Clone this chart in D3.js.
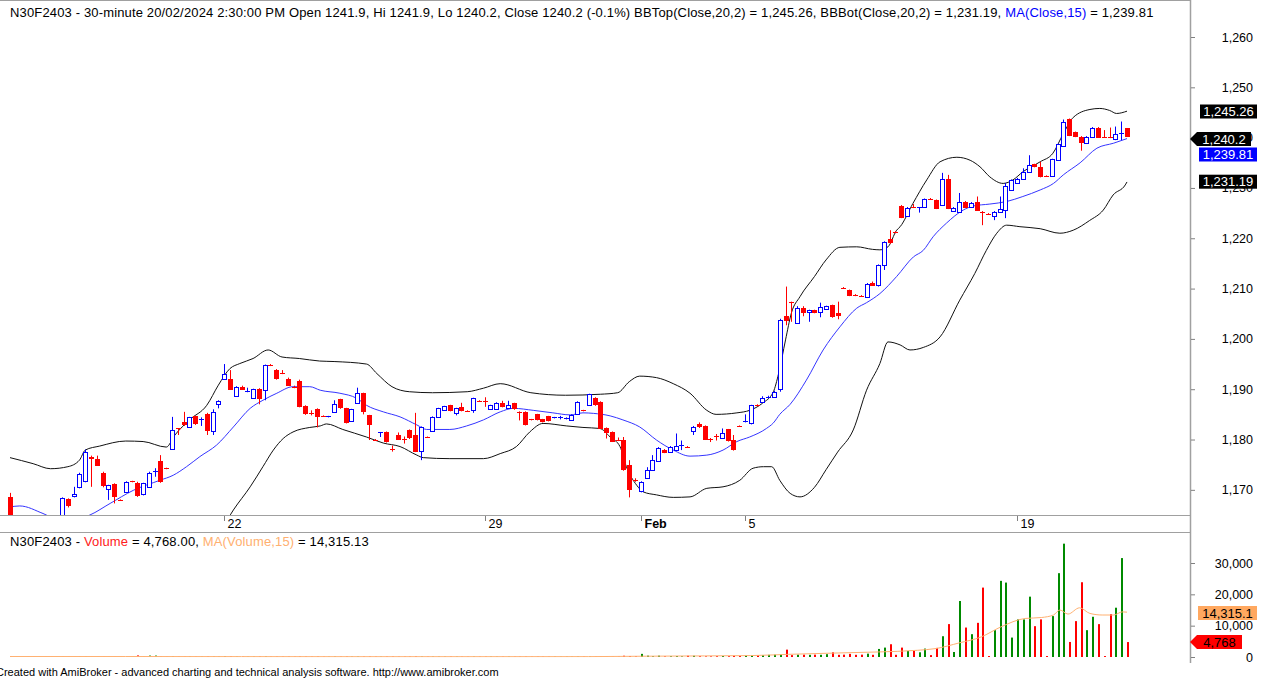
<!DOCTYPE html>
<html>
<head>
<meta charset="utf-8">
<script src="https://cdn.jsdelivr.net/npm/d3@7"></script>
<style>
  body { margin: 0; background: #fff; }
  text { font-family: "Liberation Sans", Arial, sans-serif; }
</style>
</head>
<body>
<div id="chart"></div>
<script>
// 30-minute bars, N30F2403, index 0 .. 193
const opens = [
  1168.5, 1164.0, 1162.2, 1163.0, 1162.4, 1160.9, 1162.3, 1163.6, 1162.1, 1163.8,
  1168.1, 1168.8, 1170.6, 1171.8, 1176.6, 1176.2, 1173.3, 1170.1, 1171.1, 1168.0,
  1169.6, 1171.7, 1171.4, 1169.1, 1170.6, 1173.5, 1175.8, 1174.3, 1178.2, 1182.2,
  1183.4, 1182.4, 1184.6, 1183.9, 1185.0, 1181.7, 1187.2, 1192.1, 1192.1, 1188.8,
  1190.5, 1189.5, 1188.2, 1190.0, 1189.8, 1194.9, 1193.8, 1193.2, 1192.1, 1190.5,
  1191.7, 1186.6, 1185.3, 1186.0, 1184.7, 1184.5, 1185.5, 1188.0, 1186.2, 1183.7,
  1187.2, 1189.2, 1184.8, 1180.0, 1181.4, 1181.5, 1178.2, 1180.9, 1180.2, 1181.8,
  1180.9, 1177.6, 1180.5, 1181.7, 1184.4, 1185.8, 1186.8, 1185.3, 1186.5, 1185.7,
  1185.8, 1187.7, 1187.6, 1186.0, 1186.2, 1187.3, 1186.2, 1187.2, 1185.5, 1185.5,
  1184.0, 1185.0, 1184.0, 1184.6, 1184.3, 1184.3, 1184.1, 1183.9, 1185.1, 1185.8,
  1186.8, 1188.2, 1187.5, 1182.2, 1181.5, 1180.0, 1179.9, 1174.9, 1172.0, 1169.9,
  1172.3, 1174.1, 1175.9, 1178.0, 1177.6, 1178.0, 1178.9, 1178.6, 1181.7, 1183.0,
  1182.7, 1180.2, 1180.7, 1180.4, 1182.0, 1179.9, 1182.7, 1183.5, 1183.3, 1186.9,
  1187.5, 1188.4, 1188.6, 1189.9, 1204.5, 1207.4, 1203.2, 1206.1, 1205.4, 1205.7,
  1205.4, 1205.9, 1206.7, 1205.1, 1210.2, 1209.7, 1208.8, 1208.6, 1208.4, 1211.2,
  1210.7, 1214.7, 1219.8, 1221.3, 1226.4, 1224.6, 1226.3, 1226.0, 1226.2, 1227.9,
  1227.6, 1226.6, 1231.8, 1225.6, 1225.3, 1227.3, 1226.3, 1227.3, 1225.3, 1224.9,
  1224.6, 1225.3, 1225.6, 1229.7, 1231.0, 1231.9, 1233.2, 1234.7, 1234.2, 1232.4,
  1232.4, 1235.5, 1238.4, 1243.7, 1241.1, 1240.2, 1239.0, 1240.2, 1242.0, 1240.2,
  1240.1, 1239.9, 1240.7, 1241.9
];
const highs = [
  1169.4, 1164.6, 1163.4, 1164.2, 1163.1, 1162.8, 1164.3, 1164.0, 1164.2, 1168.5,
  1168.3, 1170.6, 1173.4, 1178.0, 1176.8, 1176.8, 1173.6, 1171.0, 1171.3, 1168.1,
  1171.7, 1171.8, 1171.6, 1171.4, 1173.6, 1174.3, 1176.9, 1174.4, 1184.5, 1182.2,
  1185.5, 1184.5, 1184.7, 1184.4, 1185.3, 1186.0, 1187.8, 1195.0, 1193.8, 1190.6,
  1190.7, 1190.3, 1190.1, 1190.2, 1194.9, 1195.0, 1194.0, 1193.8, 1192.3, 1190.7,
  1191.9, 1186.8, 1185.8, 1186.2, 1184.8, 1184.7, 1187.8, 1188.1, 1186.3, 1186.1,
  1190.3, 1189.3, 1184.9, 1180.1, 1181.5, 1181.6, 1178.8, 1181.4, 1180.6, 1182.0,
  1185.3, 1182.6, 1180.6, 1184.6, 1186.3, 1186.7, 1186.9, 1186.3, 1187.3, 1185.8,
  1188.3, 1187.8, 1188.4, 1186.9, 1187.4, 1187.7, 1187.7, 1187.3, 1185.6, 1185.6,
  1184.1, 1185.1, 1184.1, 1184.7, 1184.5, 1184.7, 1184.4, 1185.0, 1187.6, 1185.9,
  1189.1, 1188.4, 1187.6, 1182.4, 1181.6, 1180.4, 1180.5, 1175.9, 1172.3, 1171.7,
  1174.5, 1176.9, 1178.5, 1178.1, 1178.7, 1181.2, 1179.8, 1178.7, 1182.7, 1183.4,
  1182.8, 1180.3, 1181.1, 1182.2, 1182.1, 1180.9, 1182.8, 1185.0, 1186.9, 1187.0,
  1188.6, 1188.7, 1189.7, 1204.0, 1210.4, 1207.4, 1206.5, 1206.5, 1205.8, 1205.8,
  1207.2, 1206.6, 1206.8, 1207.4, 1210.3, 1209.8, 1208.9, 1208.7, 1211.1, 1211.4,
  1214.8, 1219.4, 1221.6, 1221.4, 1226.6, 1226.2, 1226.8, 1226.2, 1227.9, 1228.0,
  1227.7, 1233.0, 1232.6, 1226.2, 1229.0, 1227.4, 1227.2, 1228.3, 1225.4, 1225.0,
  1225.4, 1228.3, 1231.0, 1231.7, 1232.0, 1233.9, 1236.5, 1234.8, 1235.2, 1232.5,
  1235.8, 1238.8, 1243.6, 1243.8, 1241.2, 1240.3, 1240.3, 1242.1, 1242.1, 1241.5,
  1242.0, 1242.2, 1243.2, 1241.9
];
const lows = [
  1163.0, 1161.5, 1160.8, 1161.9, 1160.2, 1160.5, 1161.8, 1161.7, 1161.9, 1163.2,
  1166.5, 1168.5, 1170.3, 1171.5, 1170.6, 1174.8, 1170.5, 1168.0, 1167.3, 1167.8,
  1169.5, 1171.5, 1168.6, 1168.9, 1170.4, 1172.6, 1171.4, 1174.1, 1178.0, 1180.9,
  1182.7, 1182.3, 1182.9, 1182.7, 1180.9, 1180.9, 1186.2, 1192.0, 1189.9, 1188.7,
  1189.9, 1189.4, 1188.1, 1187.0, 1187.8, 1194.6, 1191.9, 1193.0, 1190.7, 1190.2,
  1186.4, 1184.9, 1184.8, 1182.4, 1184.5, 1184.4, 1185.4, 1186.1, 1183.2, 1183.6,
  1187.1, 1185.0, 1179.9, 1179.8, 1180.5, 1179.4, 1177.6, 1179.9, 1179.2, 1180.1,
  1177.5, 1175.9, 1180.3, 1181.6, 1184.3, 1185.7, 1185.6, 1184.8, 1185.6, 1185.5,
  1185.3, 1187.5, 1186.5, 1185.9, 1186.1, 1186.4, 1186.1, 1185.9, 1183.8, 1182.8,
  1183.8, 1183.8, 1183.4, 1183.6, 1184.2, 1184.0, 1184.0, 1183.8, 1185.0, 1185.6,
  1186.7, 1186.7, 1182.1, 1180.2, 1179.5, 1179.7, 1173.8, 1168.5, 1171.6, 1169.5,
  1172.2, 1174.0, 1175.8, 1177.3, 1177.5, 1177.9, 1177.9, 1178.4, 1180.9, 1182.3,
  1179.9, 1179.5, 1179.8, 1180.3, 1179.6, 1177.8, 1182.5, 1183.4, 1183.0, 1186.6,
  1187.4, 1188.2, 1188.5, 1189.5, 1202.7, 1203.4, 1203.1, 1204.5, 1203.4, 1205.1,
  1204.3, 1205.8, 1204.2, 1203.9, 1210.0, 1208.5, 1208.5, 1208.4, 1208.3, 1210.6,
  1210.4, 1213.7, 1218.9, 1221.0, 1224.0, 1224.5, 1226.0, 1225.1, 1226.1, 1227.7,
  1225.8, 1226.5, 1225.8, 1225.5, 1225.2, 1226.0, 1226.2, 1225.5, 1222.6, 1224.7,
  1223.6, 1225.2, 1224.0, 1229.6, 1230.9, 1231.8, 1233.1, 1234.1, 1232.1, 1232.2,
  1232.3, 1235.4, 1238.3, 1240.3, 1240.1, 1237.4, 1238.9, 1240.1, 1240.0, 1240.0,
  1239.9, 1239.5, 1239.5, 1240.2
];
const closes = [
  1164.0, 1162.2, 1163.0, 1162.4, 1160.9, 1162.3, 1163.6, 1162.1, 1163.8, 1168.3,
  1166.8, 1169.1, 1173.1, 1177.6, 1176.2, 1174.9, 1170.7, 1170.9, 1168.5, 1167.9,
  1171.6, 1171.6, 1168.8, 1171.3, 1173.4, 1173.7, 1171.6, 1174.2, 1181.9, 1182.0,
  1182.8, 1184.4, 1183.0, 1184.1, 1181.7, 1185.5, 1187.7, 1193.1, 1190.0, 1190.5,
  1190.0, 1189.7, 1190.0, 1188.0, 1194.8, 1194.7, 1192.1, 1193.1, 1190.8, 1190.4,
  1186.6, 1185.0, 1185.2, 1184.4, 1184.6, 1184.6, 1187.0, 1186.2, 1183.3, 1186.0,
  1189.2, 1185.5, 1182.9, 1179.9, 1181.5, 1179.5, 1178.1, 1180.0, 1180.1, 1180.2,
  1177.6, 1182.4, 1180.4, 1184.5, 1186.2, 1186.6, 1185.7, 1186.2, 1185.7, 1185.6,
  1188.2, 1187.6, 1187.5, 1186.8, 1187.3, 1186.5, 1186.8, 1186.0, 1185.3, 1182.9,
  1183.9, 1183.9, 1183.5, 1183.7, 1184.4, 1184.4, 1184.3, 1184.9, 1187.5, 1185.7,
  1189.0, 1186.8, 1182.2, 1181.2, 1179.6, 1179.8, 1173.9, 1169.9, 1171.9, 1171.6,
  1173.9, 1176.0, 1178.4, 1177.4, 1178.6, 1178.7, 1179.0, 1178.5, 1182.4, 1182.4,
  1180.0, 1180.1, 1180.6, 1181.3, 1179.7, 1177.9, 1182.6, 1183.6, 1186.8, 1186.7,
  1188.3, 1188.5, 1189.5, 1203.7, 1203.6, 1207.2, 1206.2, 1205.2, 1205.7, 1205.2,
  1206.4, 1206.5, 1204.3, 1204.5, 1210.1, 1208.6, 1208.6, 1208.5, 1211.0, 1210.7,
  1214.7, 1219.3, 1219.0, 1221.1, 1224.1, 1226.1, 1226.1, 1226.2, 1227.8, 1227.8,
  1225.9, 1231.7, 1225.9, 1226.1, 1227.3, 1226.1, 1227.1, 1225.6, 1225.2, 1224.8,
  1225.3, 1225.9, 1230.4, 1231.6, 1231.7, 1233.2, 1234.6, 1234.2, 1232.2, 1232.3,
  1235.7, 1238.7, 1243.1, 1240.4, 1240.2, 1239.0, 1240.2, 1242.0, 1240.1, 1240.1,
  1240.0, 1240.8, 1240.9, 1240.2
];
const volumes = [
  150, 100, 120, 80, 100, 90, 110, 100, 80, 150,
  100, 120, 150, 200, 120, 100, 150, 100, 120, 80,
  120, 80, 500, 100, 450, 450, 150, 80, 200, 100,
  100, 120, 90, 100, 150, 120, 100, 200, 150, 100,
  90, 80, 100, 120, 150, 80, 100, 90, 100, 80,
  120, 100, 90, 120, 80, 70, 100, 90, 120, 100,
  110, 100, 120, 90, 80, 100, 120, 80, 90, 100,
  150, 120, 80, 100, 90, 80, 100, 90, 80, 70,
  100, 80, 90, 100, 80, 90, 100, 80, 90, 100,
  80, 90, 100, 80, 90, 80, 100, 90, 120, 100,
  120, 100, 150, 120, 100, 120, 400, 300, 200, 1000,
  430, 250, 430, 200, 250, 300, 200, 400, 400, 250,
  200, 200, 250, 300, 250, 400, 300, 500, 600, 600,
  600, 700, 750, 800, 2350, 600, 750, 750, 700, 750,
  700, 900, 1500, 700, 750, 1000, 700, 750, 1070, 700,
  2570, 3000, 4070, 700, 3000, 1930, 1930, 1500, 2680, 600,
  2900, 6630, 10500, 1600, 17870, 9400, 7280, 10900, 22150, 300,
  8560, 24300, 23750, 6200, 12000, 12000, 19260, 9840, 12000, 300,
  13050, 26750, 36170, 4800, 11450, 23860, 8560, 12840, 10490, 300,
  13700, 15730, 31570, 4768
];

// indicator lines: [bar index, value]
const bbTop = [
  [0,1176.4],[4,1175.2],[7,1174.2],[10,1174.6],[12,1175.9],[13,1177.9],[15.5,1178.7],[20,1179.7],
  [23,1179.6],[27,1178.5],[28.5,1180.9],[31,1183.9],[34,1186.8],[36,1190.8],[38,1194.1],[39.7,1195.1],
  [42,1196.1],[44.6,1197.8],[47,1196.4],[50,1196.1],[53.5,1195.6],[56,1195.5],[61.6,1195],[63.4,1193.1],
  [66,1190.5],[69,1189.5],[73,1189.3],[79,1189.5],[81.8,1190.2],[84.7,1191.1],[90,1189.3],[96,1188.8],
  [102,1189.0],[105,1189.3],[107,1191.5],[108.8,1192.6],[111.7,1192.3],[114.6,1191.1],[117.5,1189.2],
  [120.4,1185.8],[122,1185.0],[125.6,1185.3],[127.8,1185.8],[130,1187.2],[131.9,1189.5],[132.8,1193.1],
  [134,1199.8],[135,1205.1],[136.5,1208.4],[139,1212.4],[141,1215.7],[143.4,1218.2],[146.3,1218.3],
  [149,1217.8],[150.3,1217.7],[151.7,1218.3],[153.2,1221.6],[153.8,1222.3],[156,1226.9],[158.4,1231.6],
  [160.7,1235.2],[163.6,1236.1],[165.9,1235.5],[167.6,1234.2],[169.3,1232.2],[171.6,1230.9],[173.3,1231.6],
  [175,1233.2],[178,1235.2],[180.2,1236.9],[182,1240.8],[183.7,1244.0],[186.6,1245.6],[188.3,1245.8],
  [190,1245.4],[191.2,1244.8],[193,1245.26]
];
const bbBot = [
  [0,1156],[10,1156],[20,1155],[30,1154],[35,1159],[38.6,1166.0],[41.5,1170.6],[43.7,1174.6],
  [45.5,1177.9],[47.2,1180.2],[48.9,1181.5],[51.8,1182.4],[53.6,1182.7],[54.7,1183.1],[57.5,1182.0],
  [61.6,1180.5],[64.5,1179.3],[67.4,1178.6],[70.3,1176.9],[71.4,1176.4],[76,1176.2],[81.8,1176.2],
  [84.7,1177.2],[87.5,1178.6],[89.8,1181.5],[92.1,1183.2],[96.2,1182.7],[99,1182.4],[101.9,1182.2],
  [103.7,1180.5],[105.4,1178.6],[106.5,1174.6],[108.3,1170.9],[109.4,1169.6],[111.7,1169.0],
  [114.6,1168.5],[117.5,1168.6],[120.4,1170.3],[123.2,1170.6],[126.1,1171.9],[128.4,1174.3],
  [130.2,1174.6],[131.6,1174.6],[133,1171.9],[134.8,1169.3],[136.5,1168.6],[139,1170.5],[141,1174],
  [143,1177.5],[145.7,1181.9],[148,1189.8],[150.3,1195.1],[151.7,1199.4],[153.8,1198.8],[155.5,1197.8],
  [157.8,1198.3],[160.7,1200.4],[164.1,1207.7],[166.7,1213],[168.7,1217.6],[170.5,1221],[172.2,1222.6],
  [174.5,1222.3],[178,1221.9],[181.4,1221],[183.7,1221.6],[186.5,1223.5],[188.9,1225.6],[190.6,1228.6],
  [192.7,1230.6],[193,1231.19]
];
const maClose = [
  [0,1166.6],[1.7,1166.8],[5.7,1165.3],[8,1164.2],[11,1164.0],[13.8,1165],[17.3,1167.3],[21.3,1169.9],
  [25.9,1171.9],[28.2,1172.9],[30.5,1174.6],[32.8,1176.6],[35.7,1178.9],[38.6,1182.5],[41.5,1186.2],
  [43.7,1187.8],[46.1,1189.2],[48.9,1190.5],[51.8,1190.5],[53.6,1189.8],[57,1189.2],[59.9,1188.2],
  [61.6,1186.8],[64.5,1185.5],[67.4,1184.5],[70.3,1182.9],[72,1182],[76,1182],[78.9,1182.7],[81.8,1183.9],
  [84.7,1185.5],[87,1186.2],[90.4,1185.8],[93.8,1185.3],[96.8,1184.9],[99,1185.3],[100.8,1185.2],
  [103.7,1184.7],[105.9,1183.9],[108.8,1182.5],[111.7,1179.9],[114.6,1177.9],[117.5,1176.7],
  [120.4,1176.9],[123.2,1177.9],[125.6,1179.6],[127.8,1180.5],[130.7,1182.2],[131.9,1183.3],[133,1185.0],
  [134.8,1187],[137.6,1191.8],[140.5,1197.8],[143.4,1202.4],[146.3,1206.1],[148,1207.2],[150.3,1209.0],
  [153.2,1212.4],[156.1,1216.3],[157.8,1217.6],[159.5,1220.3],[161.8,1223],[164.7,1225.6],[166.4,1226.4],
  [169.3,1226.8],[172.2,1227.3],[175,1228.3],[178,1229.6],[180.3,1230.9],[182,1232.6],[184.9,1235.0],
  [187.8,1237.9],[190.7,1238.9],[193,1239.81]
];
const maVolume = [
  [0,150],[20,150],[40,120],[60,100],[80,100],[100,120],[110,250],[120,350],[128,450],[134.5,850],
  [142.9,1280],[149.8,1600],[156.8,2140],[160,2700],[164,4500],[167.8,6400],[171.2,9600],[175.4,12300],
  [178.2,12600],[180.3,13400],[181.4,15000],[182.8,13700],[184.8,15700],[186.6,13900],[188.7,13400],
  [190.7,13400],[192.2,14400],[193,14315]
];

const priceTicks = [1170, 1180, 1190, 1200, 1210, 1220, 1230, 1240, 1250, 1260];
const volumeTicks = [0, 10000, 20000, 30000];
// date labels: [bar index, label, bold]
const dateTicks = [[37, "22", false], [82, "29", false], [109, "Feb", true], [127, "5", false], [174, "19", false]];

const width = 1270, height = 680;
const axisX = 1190;
const labelFont = 12.5;

const svg = d3.select("#chart").append("svg")
    .attr("width", width)
    .attr("height", height);

const x = d3.scaleLinear().domain([0, 193]).range([10, 1127]);
const yP = d3.scaleLinear().domain([1165, 1260]).range([515, 37]);
const yV = d3.scaleLinear().domain([0, 30000]).range([657, 563]);

// clip areas
const defs = svg.append("defs");
defs.append("clipPath").attr("id", "clipPrice")
  .append("rect").attr("x", 0).attr("y", 0).attr("width", axisX).attr("height", 515);
defs.append("clipPath").attr("id", "clipVol")
  .append("rect").attr("x", 0).attr("y", 533).attr("width", axisX).attr("height", 124.5);

// frame lines
svg.append("line").attr("x1", 0).attr("x2", axisX).attr("y1", 0.5).attr("y2", 0.5).attr("stroke", "#a0a0a0");
svg.append("line").attr("x1", 0).attr("x2", axisX).attr("y1", 515.5).attr("y2", 515.5).attr("stroke", "#a0a0a0");
svg.append("line").attr("x1", 0).attr("x2", axisX).attr("y1", 532.5).attr("y2", 532.5).attr("stroke", "#a0a0a0");
svg.append("line").attr("x1", axisX + 0.5).attr("x2", axisX + 0.5).attr("y1", 0).attr("y2", 663).attr("stroke", "#a0a0a0").attr("stroke-width", 1.5);

// ---- price pane ----
const price = svg.append("g").attr("clip-path", "url(#clipPrice)");

const line = d3.line().x(d => x(d[0])).y(d => yP(d[1])).curve(d3.curveMonotoneX);
price.append("path").datum(bbTop).attr("d", line).attr("fill", "none").attr("stroke", "#111").attr("stroke-width", 1);
price.append("path").datum(bbBot).attr("d", line).attr("fill", "none").attr("stroke", "#111").attr("stroke-width", 1);
price.append("path").datum(maClose).attr("d", line).attr("fill", "none").attr("stroke", "#3535ff").attr("stroke-width", 1);

const bars = d3.range(opens.length);
const candle = price.append("g").selectAll("g")
  .data(bars)
  .enter().append("g");

candle.each(function(i) {
  const g = d3.select(this);
  const o = opens[i], c = closes[i];
  const up = c >= o;
  const col = up ? "#0000ff" : "#ff0000";
  const cx = Math.round(x(i));
  g.append("line")
    .attr("x1", cx + 0.5).attr("x2", cx + 0.5)
    .attr("y1", yP(highs[i])).attr("y2", yP(lows[i]))
    .attr("stroke", col);
  const top = yP(Math.max(o, c)), bot = yP(Math.min(o, c));
  if (bot - top < 1.5) {
    g.append("line")
      .attr("x1", cx - 2).attr("x2", cx + 3)
      .attr("y1", Math.round(top) + 0.5).attr("y2", Math.round(top) + 0.5)
      .attr("stroke", col);
  } else if (up) {
    g.append("rect")
      .attr("x", cx - 1.5).attr("y", Math.round(top) + 0.5)
      .attr("width", 4).attr("height", Math.max(1, Math.round(bot - top)))
      .attr("fill", "#fff").attr("stroke", col);
  } else {
    g.append("rect")
      .attr("x", cx - 2).attr("y", Math.round(top))
      .attr("width", 5).attr("height", Math.max(1, Math.round(bot - top)))
      .attr("fill", col);
  }
});

// price axis
const pAxis = svg.append("g")
  .attr("transform", `translate(${axisX + 1},0)`)
  .call(d3.axisRight(yP).tickValues(priceTicks).tickFormat(d3.format(",")).tickSize(4));
pAxis.select(".domain").remove();
pAxis.selectAll(".tick line").attr("stroke", "#808080");
pAxis.selectAll(".tick text")
  .attr("x", 62).attr("text-anchor", "end")
  .attr("font-size", labelFont).attr("fill", "#000")
  .style("font-family", '"Liberation Sans", Arial, sans-serif');

// date axis
const dAxis = svg.append("g");
dateTicks.forEach(([i, label, bold]) => {
  const tx = Math.round(x(i)) + 0.5;
  dAxis.append("line").attr("x1", tx).attr("x2", tx).attr("y1", 516).attr("y2", 521).attr("stroke", "#808080");
  dAxis.append("text").attr("x", tx + 3).attr("y", 528)
    .attr("font-size", labelFont).attr("font-weight", bold ? "bold" : "normal")
    .text(label);
});

// value tags on the axes
function tag(yc, label, fill, color, x0, x1, arrow) {
  const g = svg.append("g");
  if (arrow) {
    g.append("polygon")
      .attr("points", [[axisX, yc], [x0, yc - 7], [x1, yc - 7], [x1, yc + 7], [x0, yc + 7]].map(p => p.join(",")).join(" "))
      .attr("fill", fill);
  } else {
    g.append("rect").attr("x", x0).attr("y", yc - 7).attr("width", x1 - x0).attr("height", 14).attr("fill", fill);
  }
  g.append("text").attr("x", (x0 + x1) / 2).attr("y", yc + 4.5)
    .attr("text-anchor", "middle").attr("font-size", 13).attr("fill", color)
    .text(label);
}
tag(111.5, "1,245.26", "#000", "#fff", 1200, 1257, false);
tag(139, "1,240.2", "#000", "#fff", 1197, 1251, true);
tag(154.5, "1,239.81", "#0000ff", "#fff", 1199, 1257, false);
tag(181.7, "1,231.19", "#000", "#fff", 1199, 1257, false);

// title
const title = svg.append("text").attr("x", 10).attr("y", 17).attr("font-size", 13)
  .attr("letter-spacing", 0.15).attr("fill", "#000")
  .attr("clip-path", "url(#clipPrice)");
title.append("tspan").text("N30F2403 - 30-minute 20/02/2024 2:30:00 PM Open 1241.9, Hi 1241.9, Lo 1240.2, Close 1240.2 (-0.1%) BBTop(Close,20,2) = 1,245.26, BBBot(Close,20,2) = 1,231.19, ");
title.append("tspan").attr("fill", "#0000ff").text("MA(Close,15)");
title.append("tspan").text(" = 1,239.81");

// ---- volume pane ----
const vol = svg.append("g").attr("clip-path", "url(#clipVol)");
vol.selectAll("rect")
  .data(bars)
  .enter().append("rect")
    .attr("x", i => Math.round(x(i)))
    .attr("y", i => yV(volumes[i]))
    .attr("width", 2)
    .attr("height", i => yV(0) - yV(volumes[i]))
    .attr("fill", i => closes[i] >= opens[i] ? "#008a00" : "#ff0000");

const vline = d3.line().x(d => x(d[0])).y(d => yV(d[1])).curve(d3.curveMonotoneX);
vol.append("path").datum(maVolume).attr("d", vline).attr("fill", "none").attr("stroke", "#ffb070").attr("stroke-width", 1);

const vAxis = svg.append("g")
  .attr("transform", `translate(${axisX + 1},0)`)
  .call(d3.axisRight(yV).tickValues(volumeTicks).tickFormat(d3.format(",")).tickSize(4));
vAxis.select(".domain").remove();
vAxis.selectAll(".tick line").attr("stroke", "#808080");
vAxis.selectAll(".tick text")
  .attr("x", 62).attr("text-anchor", "end")
  .attr("font-size", labelFont).attr("fill", "#000")
  .style("font-family", '"Liberation Sans", Arial, sans-serif');

tag(613, "14,315.1", "#ffa860", "#000", 1198, 1257, false);
tag(642, "4,768", "#ff0000", "#000", 1197, 1242, true);

const vtitle = svg.append("text").attr("x", 10).attr("y", 546).attr("font-size", 13)
  .attr("letter-spacing", 0.15).attr("fill", "#000");
vtitle.append("tspan").text("N30F2403 - ");
vtitle.append("tspan").attr("fill", "#ff2020").text("Volume");
vtitle.append("tspan").text(" = 4,768.00, ");
vtitle.append("tspan").attr("fill", "#ffb070").text("MA(Volume,15)");
vtitle.append("tspan").text(" = 14,315.13");

// footer (first letter runs off the left edge, as in the original)
svg.append("text").attr("x", -4).attr("y", 676).attr("font-size", 11).attr("fill", "#000")
  .text("Created with AmiBroker - advanced charting and technical analysis software. http://www.amibroker.com");
</script>
</body>
</html>
